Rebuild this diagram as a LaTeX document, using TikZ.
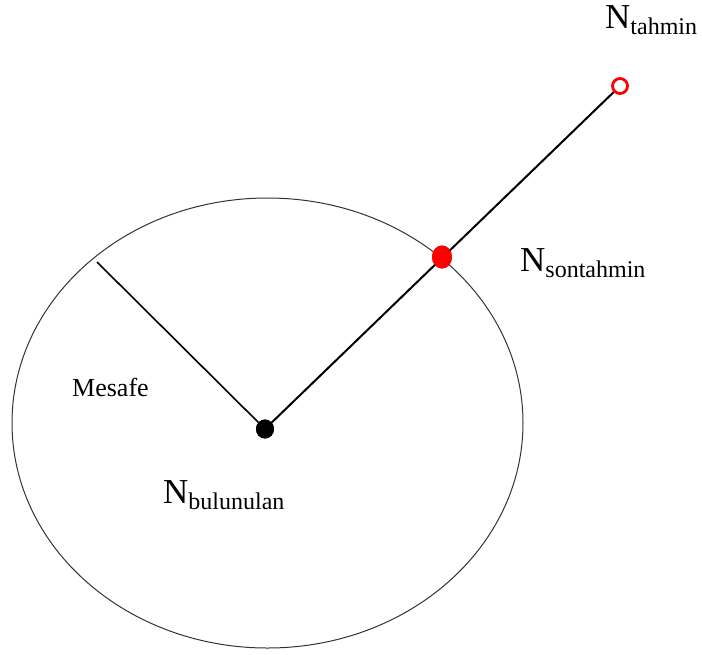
\documentclass[tikz,border=0pt]{standalone}
\usepackage{fontspec}
\setmainfont{Liberation Serif}
\usetikzlibrary{shapes.geometric}
\newcommand{\bigN}[1]{{\fontsize{35}{35}\selectfont N}{\fontsize{24}{24}\selectfont\raisebox{-6pt}{#1}}}
\begin{document}
\begin{tikzpicture}[x=1pt,y=-1pt,
  dotblack/.style={ellipse,fill=black,inner sep=0pt,minimum width=18pt,minimum height=19pt},
  dotred/.style={ellipse,fill=red,inner sep=0pt,minimum width=20pt,minimum height=23pt},
  openred/.style={circle,draw=red,line width=2.8pt,fill=white,inner sep=0pt,minimum size=15pt},
  lbl/.style={anchor=base west,inner sep=0pt}]
\useasboundingbox (0,0) rectangle (702,654);
\draw[black!80,line width=1pt] (267.5,423) ellipse [x radius=255.5, y radius=225];
\coordinate (rim) at (97,262);
\node[dotblack] (bul) at (265,429) {};
\node[dotred] (son) at (442,257) {};
\node[openred] (tah) at (620,86) {};
\draw[line width=1.6pt] (rim) -- (bul.center);
\draw[line width=2pt] (bul.center) -- (tah);
\node[dotblack] at (bul) {};
\node[dotred] at (son) {};
\node[lbl] (ltah) at (605,28) {\bigN{tahmin}};
\node[lbl] (lson) at (520,271) {\bigN{sontahmin}};
\node[lbl] (lbul) at (163,503) {\bigN{bulunulan}};
\node[lbl] (mes) at (72,396) {\fontsize{26}{26}\selectfont Mesafe};
\end{tikzpicture}
\end{document}
